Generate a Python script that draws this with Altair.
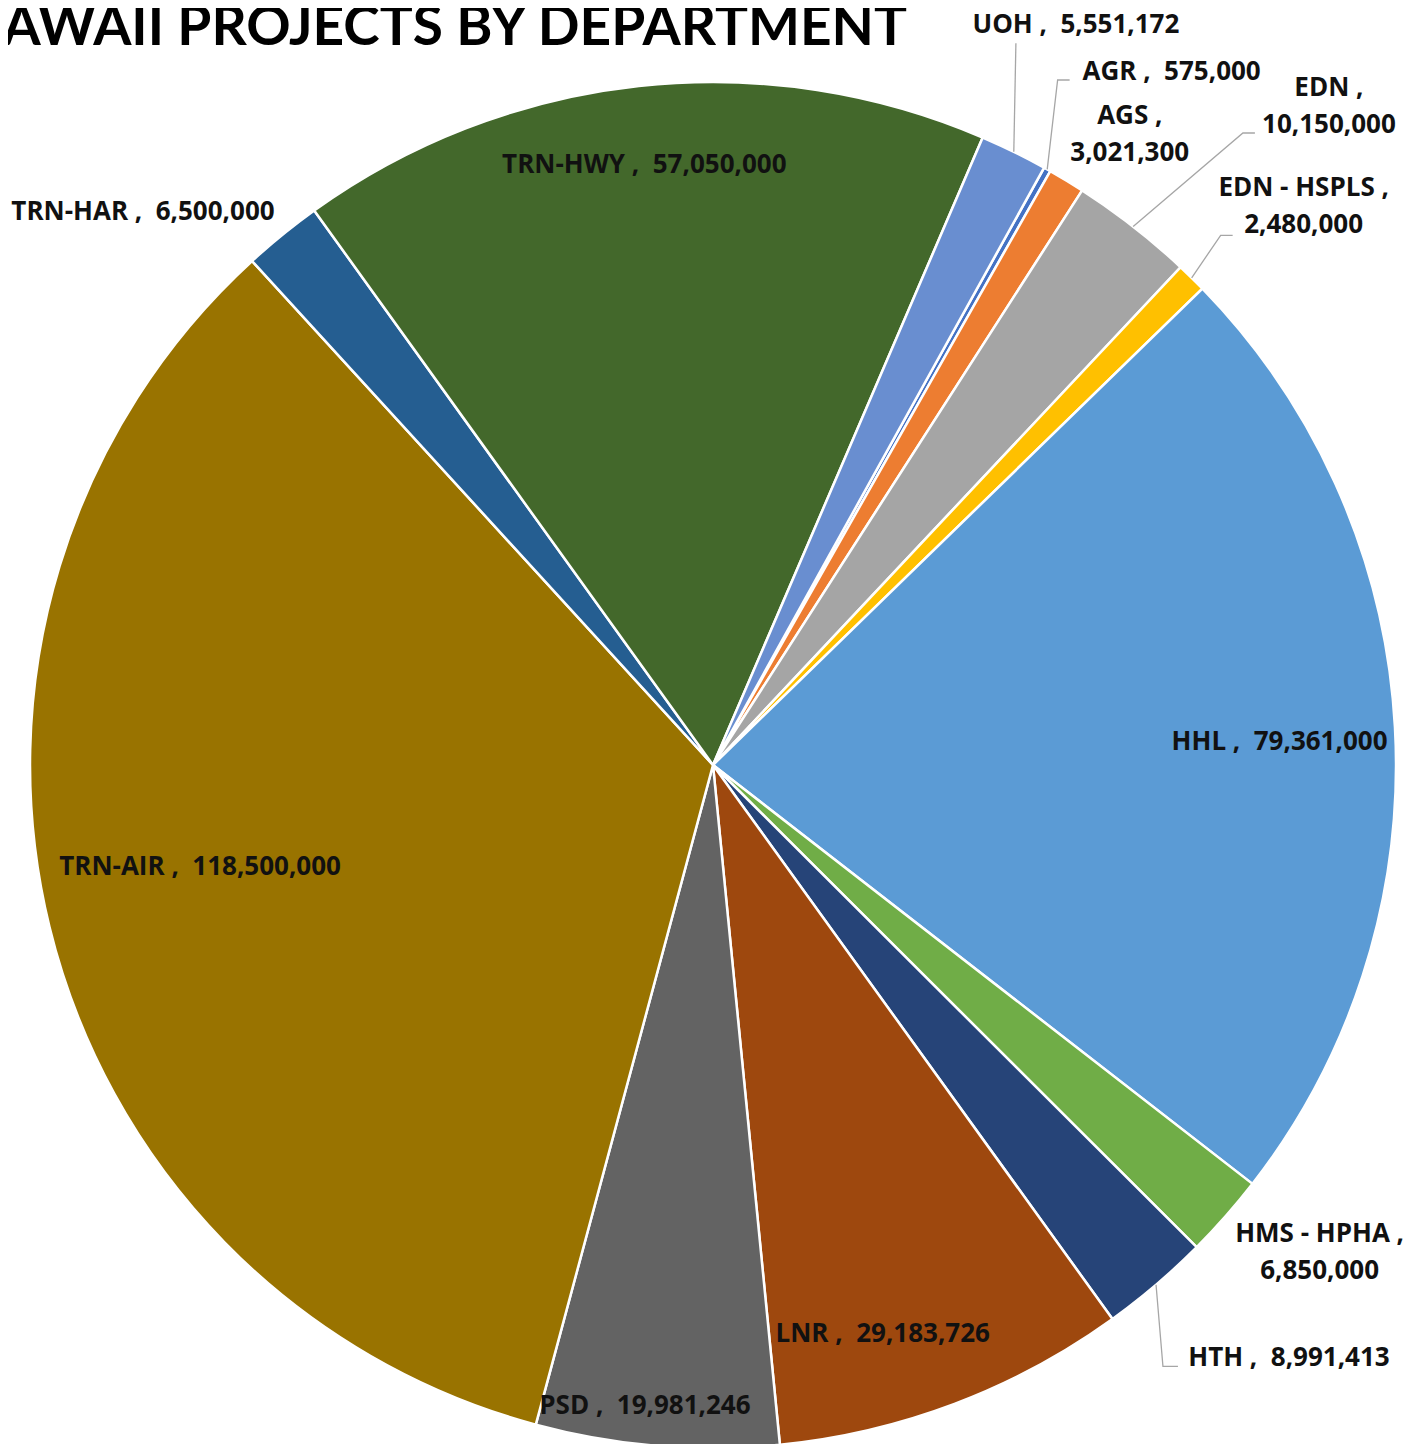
import math
import altair as alt
import pandas as pd

# ---------------- data ----------------
depts = ["AGR", "AGS", "EDN", "EDN - HSPLS", "HHL", "HMS - HPHA", "HTH",
         "LNR", "PSD", "TRN-AIR", "TRN-HAR", "TRN-HWY", "UOH"]
values = [575000, 3021300, 10150000, 2480000, 79361000, 6850000, 8991413,
          29183726, 19981246, 118500000, 6500000, 57050000, 5551172]
two_line = ["AGS", "EDN", "EDN - HSPLS", "HMS - HPHA"]
title_text = "HAWAII PROJECTS BY DEPARTMENT"

# ---------------- style ----------------
colors = ["#4472C4", "#ED7D31", "#A5A5A5", "#FFC000", "#5B9BD5", "#70AD47",
          "#264478", "#9E480E", "#636363", "#997300", "#255E91", "#43682B",
          "#698ED0"]
CX, CY, R = 705, 757, 683          # pie centre / radius (px, view coords)
START_DEG = 29.0                   # angle of first slice
label_r = [831, 756, 902, 813, 567, 778, 827, 594, 645, 523, 794, 604, 824]
label_dtheta = [4.2, 2.3, 5.1, 2.1, 0.9, -2.6, -3.7, 4.1, 1.35, 2.45, -6.8, -0.3, 0.0]
LINE_H = 37
# leader line: elbow offset from label centre, horizontal tick length
leaders = {"UOH": (-60, 18, 0), "AGR": (-114, 8, 12), "EDN": (-86, 27, 12),
           "EDN - HSPLS": (-83, 29, 12), "HTH": (-126, 8, 15)}
FONT = "Open Sans"

# ---------------- derived tables ----------------
total = float(sum(values))
df = pd.DataFrame({"dept": depts, "value": values, "idx": list(range(len(depts)))})

rows, lines = [], []
cum = 0.0
for i, (d, v) in enumerate(zip(depts, values)):
    mid = START_DEG + 360.0 * (cum + v / 2.0) / total
    cum += v
    a = math.radians(mid + label_dtheta[i])
    lx = CX + label_r[i] * math.sin(a)
    ly = CY - label_r[i] * math.cos(a)
    if d in two_line:
        txt = f"{d} ,\n{v:,}"
        ty = ly - LINE_H / 2.0
    else:
        txt = f"{d} ,\u00a0\u00a0{v:,}"
        ty = ly
    rows.append({"dept": d, "label": txt, "lx": lx, "ly": ty})
    if d in leaders:
        ox, oy, tick = leaders[d]
        am = math.radians(mid)
        p0 = (CX + R * math.sin(am), CY - R * math.cos(am))
        p1 = (lx + ox, ly + oy)
        pts = [p0, p1]
        if tick:
            pts.append((p1[0] + tick, p1[1]))
        for k, (px, py) in enumerate(pts):
            lines.append({"dept": d, "k": k, "x": px, "y": py})

labels_df = pd.DataFrame(rows)
lines_df = pd.DataFrame(lines)

start_rad = math.radians(START_DEG)

pie = alt.Chart(df).mark_arc(outerRadius=R, stroke="white", strokeWidth=2.5).encode(
    theta=alt.Theta("value:Q", stack=True,
                    scale=alt.Scale(range=[start_rad, start_rad + 2 * math.pi])),
    color=alt.Color("dept:N", scale=alt.Scale(domain=depts, range=colors), legend=None),
    order=alt.Order("idx:Q", sort="ascending"),
    x=alt.value(CX),
    y=alt.value(CY),
)

leader = alt.Chart(lines_df).mark_line(color="#A6A6A6", strokeWidth=1.3).encode(
    x=alt.X("x:Q", scale=None, axis=None),
    y=alt.Y("y:Q", scale=None, axis=None),
    detail="dept:N",
    order="k:Q",
)

labels = alt.Chart(labels_df).mark_text(
    font=FONT, fontSize=26, fontWeight="bold", color="#111111",
    align="center", baseline="middle", lineBreak="\n", lineHeight=LINE_H,
).encode(
    x=alt.X("lx:Q", scale=None, axis=None),
    y=alt.Y("ly:Q", scale=None, axis=None),
    text="label:N",
)

title = alt.Chart(pd.DataFrame({"t": [title_text]})).mark_text(
    font="Lato", fontSize=55, fontWeight="bold", color="#000000",
    align="right", baseline="alphabetic",
).encode(
    x=alt.value(899),
    y=alt.value(37),
    text="t:N",
)

chart = alt.layer(pie, leader, labels, title).properties(
    width=1396, height=1436,
    autosize=alt.AutoSizeParams(type="none"),
    padding=0,
).configure_view(strokeWidth=0)

chart.save("out.html", embed_options={"renderer": "svg", "actions": False})
